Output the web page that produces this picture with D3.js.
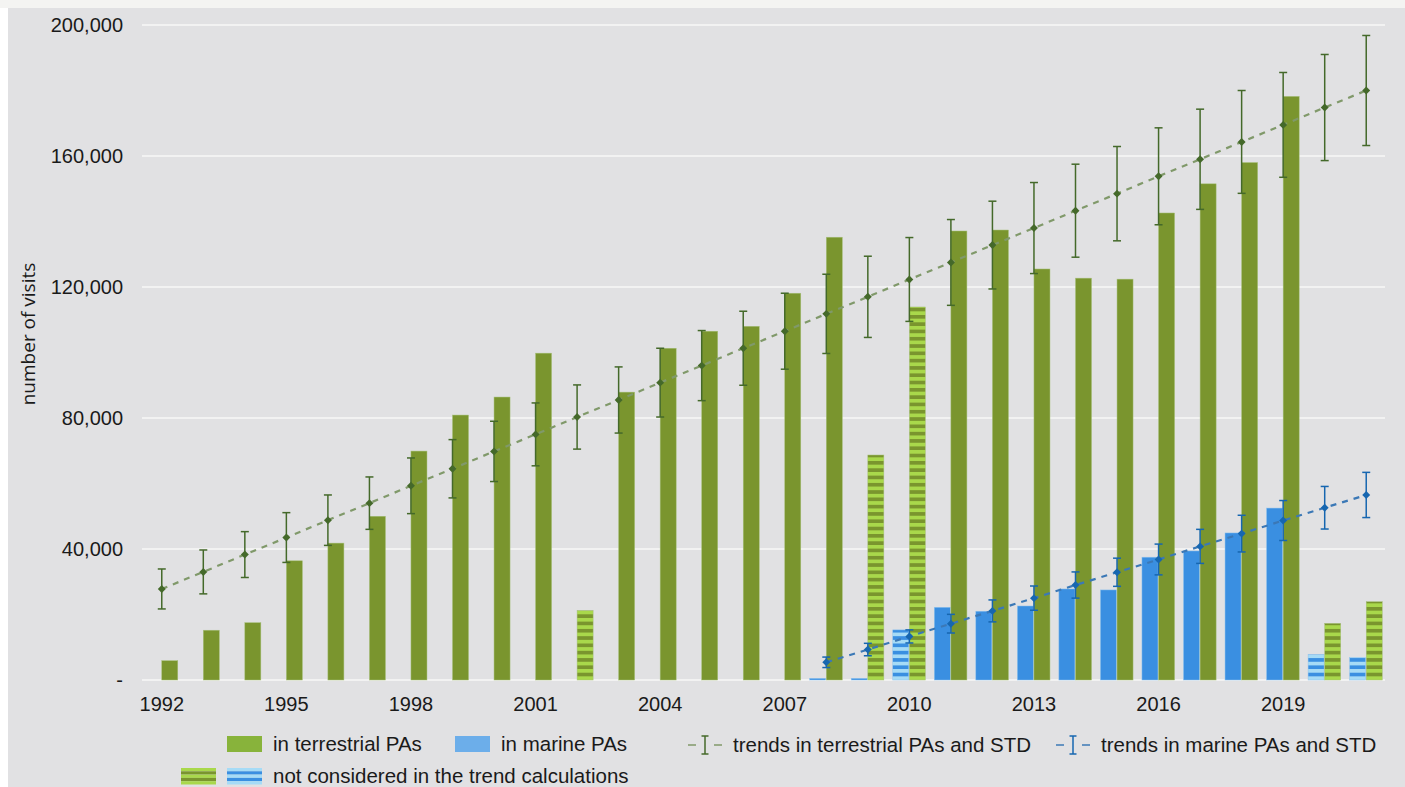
<!DOCTYPE html>
<html>
<head>
<meta charset="utf-8">
<title>Visits in protected areas</title>
<script src="https://cdn.jsdelivr.net/npm/d3@7"></script>
<style>
  body { margin: 0; background: #fff; font-family: "Liberation Sans", Arial, sans-serif; }
  svg text { fill: #1a1a1a; }
</style>
</head>
<body>
<svg id="chart" width="1405" height="787"></svg>
<script>
// ---- data ----
var years = d3.range(1992, 2022)
var tickYears = [1992, 1995, 1998, 2001, 2004, 2007, 2010, 2013, 2016, 2019]
var yTicks = [0, 40000, 80000, 120000, 160000, 200000]

var terrestrial = [5900, 15200, 17500, 36400, 41800, 50000, 69900, 80900, 86400, 99800,
  21200, 87900, 101300, 106500, 108000, 118100, 135200, 68700, 113900, 137100,
  137400, 125500, 122700, 122400, 142600, 151500, 158000, 178200, 17300, 23900]
// years whose bars were not used for the trend
var terrestrialExcluded = [2002, 2009, 2010, 2020, 2021]

var marineYears = d3.range(2008, 2022)
var marine = [500, 500, 15300, 22200, 21000, 22600, 27800, 27500, 37500, 39400, 44900, 52500, 7800, 6900]
var marineExcluded = [2010, 2020, 2021]

var terrTrend = [27800, 33000, 38300, 43500, 48800, 54000, 59300, 64500, 69800, 75000,
  80300, 85500, 90800, 96000, 101300, 106500, 111800, 117000, 122300, 127500,
  132800, 138000, 143300, 148500, 153800, 159000, 164300, 169500, 174800, 180000]
var terrStd = [6100, 6700, 7000, 7600, 7700, 8000, 8500, 8900, 9200, 9600,
  9800, 10100, 10500, 10700, 11300, 11600, 12100, 12400, 12800, 13100,
  13400, 13900, 14200, 14400, 14800, 15300, 15700, 16000, 16200, 16800]

var marTrend = [5400, 9300, 13300, 17200, 21100, 25000, 29000, 32900, 36800, 40800, 44700, 48700, 52600, 56500]
var marStd = [1600, 1900, 2000, 2850, 3350, 3700, 4000, 4300, 4700, 5200, 5600, 6100, 6500, 6900]

// ---- colours ----
var cTerr = "#7a952e", cTerrLight = "#a9d84b", cTerrLegend = "#88b33b"
var cMar = "#3a8fe1", cMarLight = "#a6dbf6", cMarLegend = "#6caeea"
var cTerrLine = "#80996a", cTerrPt = "#44692a"
var cMarLine = "#3b78b6", cMarPt = "#1666b0"

var svg = d3.select("#chart")

// page background strips and chart panel
svg.append("rect").attr("x", 0).attr("y", 0).attr("width", 1405).attr("height", 8).attr("fill", "#f4f4f2")
svg.append("rect").attr("x", 8).attr("y", 8).attr("width", 1397).attr("height", 779).attr("fill", "#e1e1e3")

var defs = svg.append("defs")
function stripes(id, dark, light) {
  var p = defs.append("pattern").attr("id", id).attr("patternUnits", "userSpaceOnUse")
    .attr("width", 10).attr("height", 7.3).attr("y", 680)
  p.append("rect").attr("width", 10).attr("height", 7.3).attr("fill", light)
  p.append("rect").attr("width", 10).attr("height", 3.65).attr("fill", dark)
}
stripes("hatchTerr", cTerr, cTerrLight)
stripes("hatchMar", cMar, cMarLight)

// ---- scales ----
var x = d3.scaleBand().domain(years).range([141, 1387]).paddingInner(0.2).paddingOuter(0.1)
var xSub = d3.scaleBand().domain(["marine", "terrestrial"]).range([0, x.bandwidth()])
var y = d3.scaleLinear().domain([0, 200000]).range([680, 25])
var cx = function(yr) { return x(yr) + x.bandwidth() / 2 }

// gridlines
svg.append("g").selectAll("line").data(yTicks).join("line")
  .attr("x1", 142).attr("x2", 1385)
  .attr("y1", d => y(d)).attr("y2", d => y(d))
  .attr("stroke", "#f7f7f7").attr("stroke-width", 1.3)

// y axis
var yAxis = svg.append("g").attr("transform", "translate(128,0)")
  .call(d3.axisLeft(y).tickValues(yTicks).tickSize(0).tickPadding(5)
    .tickFormat(d => d === 0 ? "-" : d3.format(",")(d)))
yAxis.select(".domain").remove()
yAxis.selectAll("text").attr("font-size", 20).attr("font-family", "Liberation Sans, Arial, sans-serif")

svg.append("text").attr("transform", "translate(35,334) rotate(-90)")
  .attr("text-anchor", "middle").attr("font-family", "Open Sans, sans-serif")
  .attr("font-size", 19).text("number of visits")

// x axis
var xAxis = svg.append("g").attr("transform", "translate(0,692)")
  .call(d3.axisBottom(x).tickValues(tickYears).tickSize(0).tickPadding(5))
xAxis.select(".domain").remove()
xAxis.selectAll("text").attr("font-size", 20).attr("font-family", "Liberation Sans, Arial, sans-serif")

// ---- bars ----
var terrData = years.map((yr, i) => ({ year: yr, v: terrestrial[i], ex: terrestrialExcluded.includes(yr) }))
var marData = marineYears.map((yr, i) => ({ year: yr, v: marine[i], ex: marineExcluded.includes(yr) }))

svg.append("g").selectAll("rect").data(marData).join("rect")
  .attr("x", d => x(d.year) + xSub("marine"))
  .attr("width", xSub.bandwidth() - 0.6)
  .attr("y", d => y(d.v)).attr("height", d => y(0) - y(d.v))
  .attr("fill", d => d.ex ? "url(#hatchMar)" : cMar)
  .attr("stroke", "#8fc3ee").attr("stroke-width", 0.5)

svg.append("g").selectAll("rect").data(terrData).join("rect")
  .attr("x", d => x(d.year) + xSub("terrestrial"))
  .attr("width", xSub.bandwidth() - 0.6)
  .attr("y", d => y(d.v)).attr("height", d => y(0) - y(d.v))
  .attr("fill", d => d.ex ? "url(#hatchTerr)" : cTerr)
  .attr("stroke", "#a6c07a").attr("stroke-width", 0.5)

// ---- trends with std error bars ----
function trend(yrs, vals, stds, lineCol, ptCol) {
  var pts = yrs.map((yr, i) => ({ year: yr, v: vals[i], s: stds[i] }))
  var g = svg.append("g")
  g.append("path").datum(pts)
    .attr("d", d3.line().x(d => cx(d.year)).y(d => y(d.v)))
    .attr("fill", "none").attr("stroke", lineCol).attr("stroke-width", 2.2)
    .attr("stroke-dasharray", "6,6")
  var eb = g.selectAll("g.eb").data(pts).join("g").attr("class", "eb")
  eb.append("line").attr("x1", d => cx(d.year)).attr("x2", d => cx(d.year))
    .attr("y1", d => y(d.v + d.s)).attr("y2", d => y(d.v - d.s))
    .attr("stroke", ptCol).attr("stroke-width", 1.5)
  eb.selectAll("line.cap").data(d => [d.v + d.s, d.v - d.s].map(v => ({ year: d.year, v: v })))
    .join("line").attr("class", "cap")
    .attr("x1", d => cx(d.year) - 4).attr("x2", d => cx(d.year) + 4)
    .attr("y1", d => y(d.v)).attr("y2", d => y(d.v))
    .attr("stroke", ptCol).attr("stroke-width", 1.5)
  g.selectAll("path.pt").data(pts).join("path").attr("class", "pt")
    .attr("d", d3.symbol(d3.symbolDiamond2, 40))
    .attr("transform", d => "translate(" + cx(d.year) + "," + y(d.v) + ")")
    .attr("fill", ptCol)
}
trend(years, terrTrend, terrStd, cTerrLine, cTerrPt)
trend(marineYears, marTrend, marStd, cMarLine, cMarPt)

// ---- legend ----
var lg = svg.append("g").attr("font-size", 20.5).attr("font-family", "Liberation Sans, Arial, sans-serif")
function swatch(x0, y0, fill) {
  lg.append("rect").attr("x", x0).attr("y", y0).attr("width", 35).attr("height", 16).attr("fill", fill)
}
function legendText(x0, yc, t) {
  lg.append("text").attr("x", x0).attr("y", yc).attr("dy", "0.35em").text(t)
}
swatch(227, 736, cTerrLegend); legendText(273, 744, "in terrestrial PAs")
swatch(455, 736, cMarLegend); legendText(501, 744, "in marine PAs")

// hatched legend swatches (5 stripes each)
function hatchSwatch(x0, y0, dark, light) {
  d3.range(5).forEach(function(k) {
    lg.append("rect").attr("x", x0).attr("y", y0 + k * 3.3).attr("width", 35).attr("height", 3.3)
      .attr("fill", k % 2 === 0 ? light : dark)
  })
}
hatchSwatch(181, 768, cTerr, cTerrLight)
hatchSwatch(227, 768, cMar, cMarLight)
legendText(273, 776, "not considered in the trend calculations")

function trendKey(x0, yc, lineCol, ptCol, t) {
  lg.append("line").attr("x1", x0).attr("x2", x0 + 8).attr("y1", yc).attr("y2", yc).attr("stroke", lineCol).attr("stroke-width", 1.5)
  lg.append("line").attr("x1", x0 + 26).attr("x2", x0 + 34).attr("y1", yc).attr("y2", yc).attr("stroke", lineCol).attr("stroke-width", 1.5)
  lg.append("line").attr("x1", x0 + 17).attr("x2", x0 + 17).attr("y1", yc - 9).attr("y2", yc + 9).attr("stroke", ptCol).attr("stroke-width", 1.5)
  lg.append("line").attr("x1", x0 + 13.5).attr("x2", x0 + 20.5).attr("y1", yc - 9).attr("y2", yc - 9).attr("stroke", ptCol).attr("stroke-width", 1.5)
  lg.append("line").attr("x1", x0 + 13.5).attr("x2", x0 + 20.5).attr("y1", yc + 9).attr("y2", yc + 9).attr("stroke", ptCol).attr("stroke-width", 1.5)
  legendText(x0 + 45, yc, t)
}
trendKey(688, 745, cTerrLine, cTerrPt, "trends in terrestrial PAs and STD")
trendKey(1056, 745, cMarLine, cMarPt, "trends in marine PAs and STD")
</script>
</body>
</html>
